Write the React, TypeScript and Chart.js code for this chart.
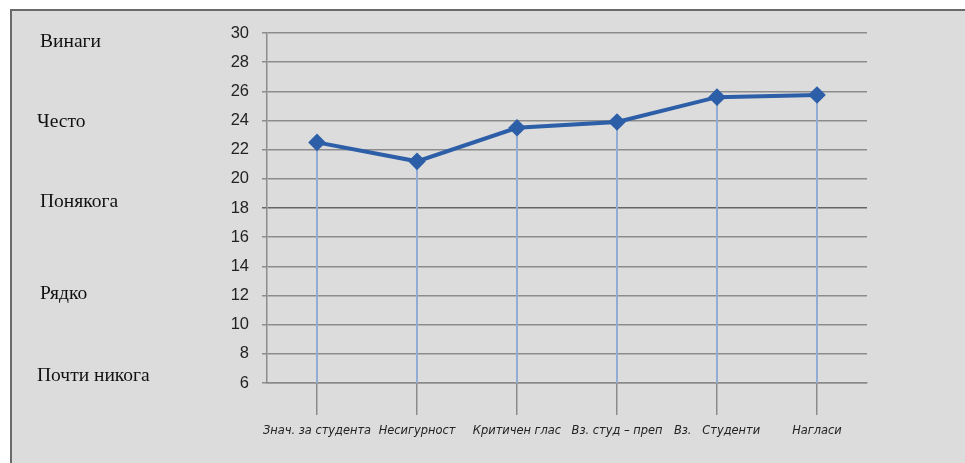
import React, { useEffect, useRef } from "react";
import { Chart, registerables } from "chart.js";

Chart.register(...registerables);

const categories = [
  "Знач. за студента",
  "Несигурност",
  "Критичен глас",
  "Вз. студ – преп",
  "Вз.   Студенти",
  "Нагласи",
];
const values = [22.5, 21.2, 23.5, 23.9, 25.6, 25.75];
const yMin = 6;
const yMax = 30;
const yStep = 2;
const scaleLabels = ["Винаги", "Често", "Понякога", "Рядко", "Почти никога"];
const scaleLabelPos = [
  { x: 40, y: 47 },
  { x: 37, y: 127 },
  { x: 40, y: 207 },
  { x: 40, y: 299 },
  { x: 37, y: 381 },
];

const dropLines = {
  id: "dropLines",
  beforeDatasetsDraw(chart: any) {
    const meta = chart.getDatasetMeta(0);
    const yScale = chart.scales.y;
    const base = yScale.getPixelForValue(yMin);
    const ctx = chart.ctx;
    ctx.save();
    ctx.strokeStyle = "#93acd6";
    ctx.lineWidth = 2;
    meta.data.forEach((pt: any) => {
      ctx.beginPath();
      ctx.moveTo(pt.x, pt.y);
      ctx.lineTo(pt.x, base);
      ctx.stroke();
    });
    ctx.restore();
  },
};

export default function App() {
  const ref = useRef<HTMLCanvasElement>(null);
  useEffect(() => {
    if (!ref.current) return;
    const chart = new Chart(ref.current, {
      type: "line",
      data: {
        labels: categories,
        datasets: [
          {
            data: values,
            borderColor: "#2d5ea8",
            backgroundColor: "#2d5ea8",
            borderWidth: 4,
            pointStyle: "rectRot",
            pointRadius: 6,
            pointHoverRadius: 6,
            tension: 0,
          },
        ],
      },
      options: {
        animation: false,
        responsive: false,
        events: [],
        layout: { padding: { left: 0, right: 98, top: 33, bottom: 0 } },
        plugins: { legend: { display: false }, tooltip: { enabled: false } },
        scales: {
          x: {
            offset: true,
            grid: {
              display: true,
              offset: false,
              drawOnChartArea: false,
              drawTicks: true,
              tickLength: 32,
              color: "#8a8a8a",
              lineWidth: 1.5,
            },
            border: { display: true, color: "#8a8a8a", width: 1.5 },
            ticks: {
              padding: 8,
              color: "#222",
              maxRotation: 0,
              autoSkip: false,
              font: { family: "'DejaVu Sans Condensed', 'DejaVu Sans'", size: 12.7, style: "italic" },
            },
            afterFit: (s: any) => {
              s.height = 80;
            },
          },
          y: {
            min: yMin,
            max: yMax,
            ticks: {
              stepSize: yStep,
              padding: 13,
              color: "#222",
              font: { family: "'Liberation Sans Narrow', 'Liberation Sans'", size: 16.5 },
            },
            grid: {
              color: (c: any) => (c.tick && c.tick.value === 18 ? "#666" : "#8c8c8c"),
              lineWidth: 1.5,
              tickLength: 5,
            },
            border: { display: true, color: "#8c8c8c", width: 1.5 },
            afterFit: (s: any) => {
              s.width = 267;
            },
          },
        },
      },
      plugins: [dropLines],
    });
    return () => chart.destroy();
  }, []);

  return (
    <div style={{ position: "absolute", left: 0, top: 0, width: 965, height: 463, background: "#fff", overflow: "hidden" }}>
      <div
        style={{
          position: "absolute",
          left: 10,
          top: 9,
          width: 960,
          height: 470,
          background: "#dcdcdc",
          borderLeft: "2px solid #6a6a6a",
          borderTop: "2px solid #6a6a6a",
        }}
      />
      <canvas ref={ref} width={965} height={463} style={{ position: "absolute", left: 0, top: 0 }} />
      {scaleLabels.map((t, i) => (
        <div
          key={t}
          style={{
            position: "absolute",
            left: scaleLabelPos[i].x,
            top: scaleLabelPos[i].y - 17,
            fontFamily: "'Liberation Serif', 'Times New Roman', serif",
            fontSize: 19.5,
            lineHeight: "21px",
            color: "#111",
            whiteSpace: "nowrap",
          }}
        >
          {t}
        </div>
      ))}
    </div>
  );
}
